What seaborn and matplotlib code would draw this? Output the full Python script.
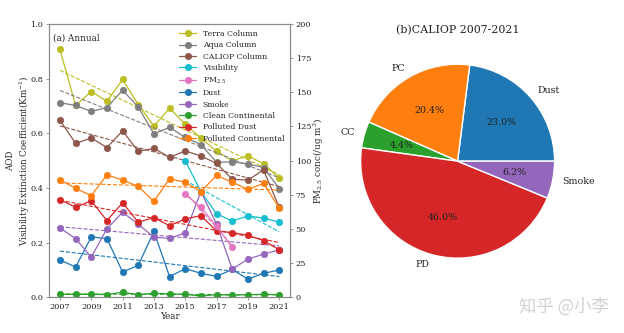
import numpy as np
import matplotlib
matplotlib.use("Agg")
import matplotlib.pyplot as plt
import seaborn as sns

# ---- annual series (2007-2021) ----
years = np.arange(2007, 2022)
terra_column = [0.907, 0.702, 0.753, 0.717, 0.797, 0.705, 0.626, 0.692, 0.633, 0.583, 0.534, 0.500, 0.518, 0.489, 0.437]
aqua_column = [0.712, 0.702, 0.680, 0.694, 0.758, 0.696, 0.598, 0.622, 0.585, 0.559, 0.494, 0.496, 0.488, 0.475, 0.398]
caliop_column = [0.648, 0.563, 0.583, 0.548, 0.609, 0.534, 0.545, 0.512, 0.536, 0.517, 0.490, 0.432, 0.429, 0.466, 0.330]
dust = [0.137, 0.111, 0.221, 0.215, 0.093, 0.117, 0.241, 0.076, 0.105, 0.088, 0.077, 0.102, 0.067, 0.088, 0.100]
smoke = [0.254, 0.215, 0.147, 0.251, 0.311, 0.268, 0.220, 0.216, 0.236, 0.387, 0.268, 0.103, 0.140, 0.158, 0.174]
clean_continental = [0.011, 0.011, 0.011, 0.010, 0.019, 0.010, 0.015, 0.013, 0.011, 0.005, 0.010, 0.008, 0.010, 0.011, 0.010]
polluted_dust = [0.357, 0.330, 0.353, 0.281, 0.346, 0.275, 0.292, 0.262, 0.287, 0.299, 0.243, 0.237, 0.227, 0.208, 0.174]
polluted_continental = [0.430, 0.399, 0.372, 0.448, 0.429, 0.406, 0.351, 0.434, 0.421, 0.387, 0.446, 0.421, 0.395, 0.417, 0.327]

# station records with shorter coverage
visibility_years = np.arange(2015, 2022)
visibility = [0.500, 0.387, 0.306, 0.279, 0.298, 0.290, 0.275]
pm25_years = np.arange(2015, 2019)
pm25 = [75.3, 66.0, 52.0, 36.6]

# ---- CALIOP aerosol subtype shares ----
pie_labels = ["Dust", "PC", "CC", "PD", "Smoke"]
pie_values = [23.0, 20.4, 4.4, 46.0, 6.2]

year_ticks = [2007, 2009, 2011, 2013, 2015, 2017, 2019, 2021]

sns.set_theme(style="ticks")
plt.rcParams["font.family"] = ["DejaVu Serif"]
plt.rcParams["mathtext.fontset"] = "dejavuserif"
plt.rcParams["axes.edgecolor"] = "#8a8a8a"
plt.rcParams["xtick.color"] = "#8a8a8a"
plt.rcParams["ytick.color"] = "#8a8a8a"
plt.rcParams["xtick.labelcolor"] = "#222222"
plt.rcParams["ytick.labelcolor"] = "#222222"
plt.rcParams["axes.linewidth"] = 0.8

pal = sns.color_palette("tab10")
c_blue, c_orange, c_green, c_red, c_purple, c_brown, c_pink, c_gray, c_olive, c_cyan = pal

fig = plt.figure(figsize=(6.24, 3.33), dpi=100)
ax = fig.add_axes([0.0785, 0.107, 0.3865, 0.821])
ax_r = ax.twinx()

tick_fs = 5.9
lab_fs = 6.3
leg_fs = 5.6

series = [
    ("Terra Column", years, terra_column, c_olive, ax),
    ("Aqua Column", years, aqua_column, c_gray, ax),
    ("CALIOP Column", years, caliop_column, c_brown, ax),
    ("Visibility", visibility_years, visibility, c_cyan, ax),
    ("PM$_{2.5}$", pm25_years, pm25, c_pink, ax_r),
    ("Dust", years, dust, c_blue, ax),
    ("Smoke", years, smoke, c_purple, ax),
    ("Clean Continental", years, clean_continental, c_green, ax),
    ("Polluted Dust", years, polluted_dust, c_red, ax),
    ("Polluted Continental", years, polluted_continental, c_orange, ax),
]

handles, labels = [], []
for name, xs, vs, col, target in series:
    sns.lineplot(x=np.asarray(xs), y=np.asarray(vs), ax=target, color=col,
                 marker="o", markersize=4.6, markeredgecolor=col,
                 markeredgewidth=0.5, linewidth=0.9, legend=False)
    handles.append(target.lines[-1])
    labels.append(name)
    sns.regplot(x=np.asarray(xs, dtype=float), y=np.asarray(vs, dtype=float),
                ax=target, scatter=False, ci=None, color=col,
                line_kws={"ls": "--", "lw": 0.8})

ax.set_xlim(2006.3, 2021.7)
ax.set_ylim(0, 1.0)
ax.set_yticks(np.arange(0, 1.01, 0.2))
ax.set_xticks(year_ticks)
ax_r.set_ylim(0, 200)
ax_r.set_yticks(np.arange(0, 201, 25))

for a in (ax, ax_r):
    a.tick_params(labelsize=tick_fs, length=2.5, width=0.6, pad=1.5)

ax.set_xlabel("Year", fontsize=lab_fs, labelpad=1)
ax.set_ylabel("AOD\nVisibility Extinction Coefficient(Km$^{-1}$)",
              fontsize=lab_fs, labelpad=-1, linespacing=1.25)
ax_r.set_ylabel("PM$_{2.5}$ conc(/ug m$^3$)", fontsize=lab_fs, labelpad=0)

ax.text(0.018, 0.95, "(a) Annual", transform=ax.transAxes, fontsize=lab_fs,
        ha="left", va="center", color="#222222")

leg = ax_r.legend(handles, labels, loc="upper right", frameon=False,
                  fontsize=leg_fs, labelspacing=0.44, handlelength=2.2,
                  handletextpad=0.8, borderaxespad=0.45, borderpad=0.3)

# ---- pie ----
ax_p = fig.add_axes([0.539, 0.152, 0.3886, 0.728])
ax_p.pie(pie_values, labels=pie_labels,
         colors=[c_blue, c_orange, c_green, c_red, c_purple],
         autopct="%1.1f%%", startangle=0,
         textprops={"fontsize": 6.8, "color": "#222222"})
ax_p.set_title("(b)CALIOP 2007-2021", fontsize=7.9, pad=5, color="#222222")

fig.text(0.975, 0.078, "知乎 @小李", ha="right", va="center", fontsize=12.5,
         color="#d2d2d2", family=["Noto Sans CJK SC", "DejaVu Sans"])

fig.savefig("out.png", dpi=100, facecolor="white")
